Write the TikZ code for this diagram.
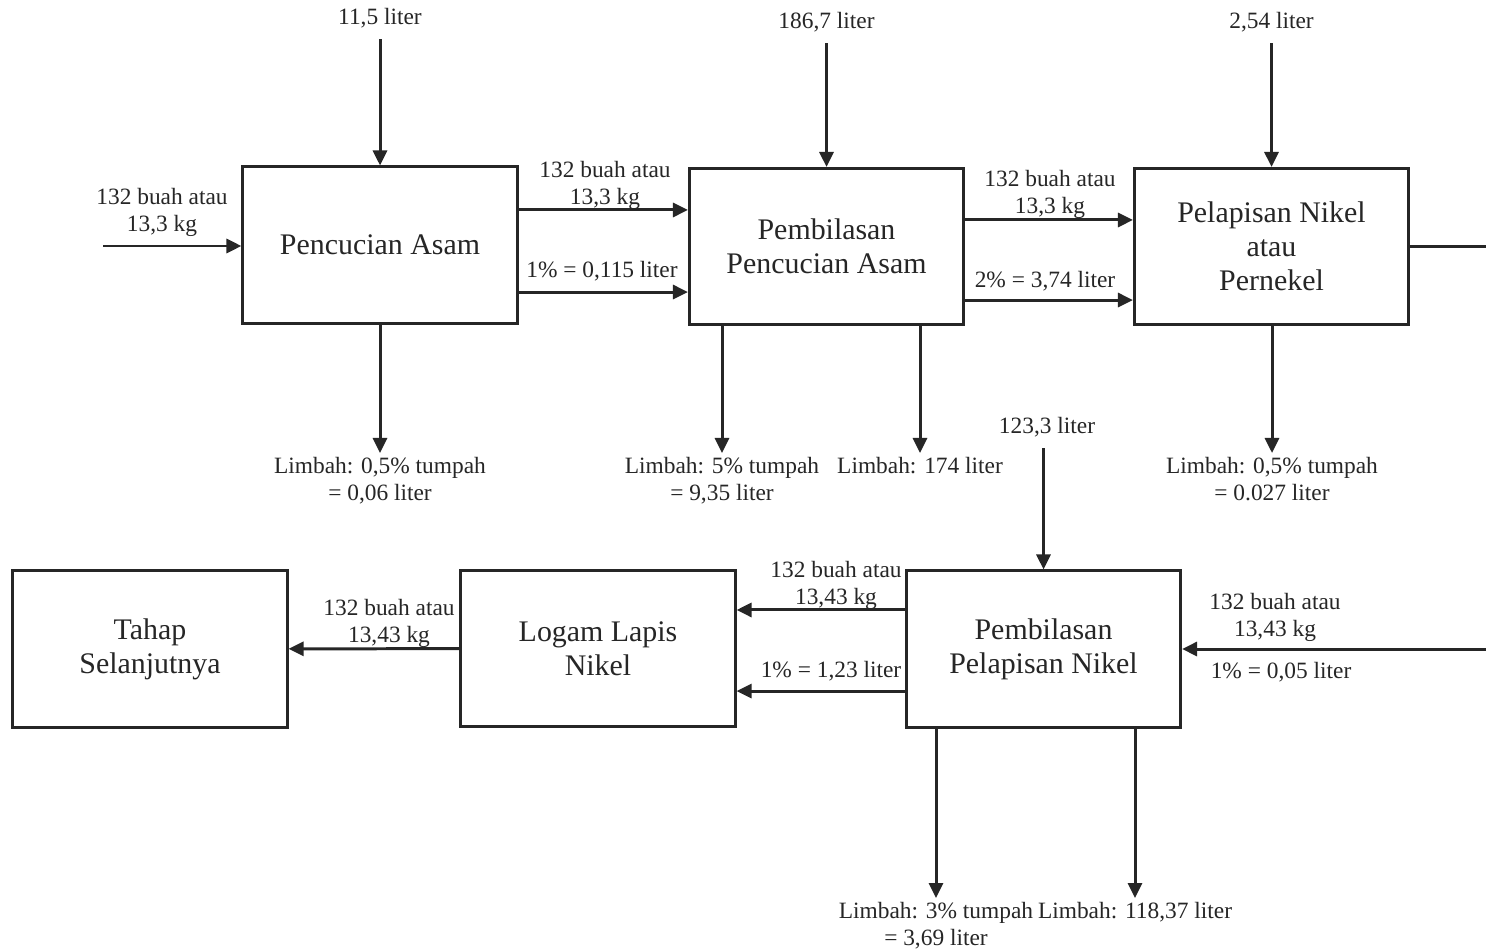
\documentclass[tikz,border=0pt]{standalone}
\usepackage{fontspec}
\setmainfont{Liberation Serif}
\usetikzlibrary{arrows.meta}
\tikzstyle{proses}=[rectangle,draw=black!85,line width=0.85pt,minimum width=2.74cm,minimum height=1.56cm,align=center,font=\fontsize{8.5}{9.6}\selectfont,text=black!85,inner sep=2pt]
\tikzstyle{ket}=[align=center,font=\fontsize{6.65}{7.7}\selectfont,text=black!85,inner sep=1pt]
\tikzstyle{aliran}=[->,line width=0.85pt,draw=black!85]
\tikzstyle{garis}=[line width=0.85pt,draw=black!85]

\begin{document}
\begin{tikzpicture}[x=0.01cm,y=-0.01cm,>={Triangle[length=1.5mm,width=1.4mm]}]

   \useasboundingbox[fill=white] (0,0) rectangle (1486,949);

    % kotak proses
    \foreach \pos/\name/\txt in {{(380,245)/A/{Pencucian Asam}}, {(826.5,246.5)/B/{Pembilasan\\Pencucian Asam}}, {(1271.5,246.5)/C/{Pelapisan Nikel\\atau\\Pernekel}}, {(1043.5,649)/D/{Pembilasan\\Pelapisan Nikel}}, {(598,648.5)/E/{Logam Lapis\\Nikel}}, {(150,649)/F/{Tahap\\Selanjutnya}}}
        \node[proses] (\name) at \pos {\txt};

    % masukan dari atas
    \foreach \x/\y/\name/\txt in {380/18/tA/{11,5 liter}, 826.5/22/tB/{186,7 liter}, 1271.5/22/tC/{2,54 liter}, 1047/427/tD/{123,3 liter}}
        \node[ket, inner sep=3pt] (\name) at (\x,\y) {\txt};

    % limbah
    \foreach \x/\y/\name/\txt in {380/453/wA/{Limbah: 0,5\% tumpah\\= 0,06 liter}, 722/453/wB1/{Limbah: 5\% tumpah\\= 9,35 liter}, 920/453/wB2/{Limbah: 174 liter}, 1272/453/wC/{Limbah: 0,5\% tumpah\\= 0.027 liter}, 936/898/wD1/{Limbah: 3\% tumpah\\= 3,69 liter}, 1135/898/wD2/{Limbah: 118,37 liter}}
        \node[ket, anchor=north] (\name) at (\x,\y) {\txt};

    % keterangan aliran
    \foreach \x/\y/\name/\txt in {162/212/lIn/{132 buah atau\\13,3 kg}, 605/185/lAB1/{132 buah atau\\13,3 kg}, 602/271/lAB2/{1\% = 0,115 liter}, 1050/194/lBC1/{132 buah atau\\13,3 kg}, 1045/281/lBC2/{2\% = 3,74 liter}, 836/585/lDE1/{132 buah atau\\13,43 kg}, 831/671/lDE2/{1\% = 1,23 liter}, 389/623/lEF/{132 buah atau\\13,43 kg}, 1275/617/lRD1/{132 buah atau\\13,43 kg}, 1281/672/lRD2/{1\% = 0,05 liter}}
        \node[ket] (\name) at (\x,\y) {\txt};

    \coordinate (inA) at (103,246);
    \coordinate (outC) at (1486,246.5);
    \coordinate (inD) at (1486,649);

    \draw[aliran] (tA) -- (A);
    \draw[aliran] (tB) -- (B);
    \draw[aliran] (tC) -- (C);
    \draw[aliran] (tD.south -| D.north) -- (D.north);

    \draw[aliran] (inA) -- (inA -| A.west);
    \draw[aliran] ([yshift=3.5mm]A.east) -- ([yshift=3.5mm]A.east -| B.west);
    \draw[aliran] ([yshift=-4.7mm]A.east) -- ([yshift=-4.7mm]A.east -| B.west);
    \draw[aliran] ([yshift=2.65mm]B.east) -- ([yshift=2.65mm]B.east -| C.west);
    \draw[aliran] ([yshift=-5.35mm]B.east) -- ([yshift=-5.35mm]B.east -| C.west);
    \draw[garis] (C) -- (outC);
    \draw[aliran] (inD) -- (D);
    \draw[aliran] ([yshift=3.9mm]D.west) -- ([yshift=3.9mm]D.west -| E.east);
    \draw[aliran] ([yshift=-4.2mm]D.west) -- ([yshift=-4.2mm]D.west -| E.east);
    \draw[aliran] (E) -- (F);

    \draw[aliran] (A) -- (wA.north);
    \draw[aliran] (B.south -| wB1.north) -- (wB1.north);
    \draw[aliran] (B.south -| wB2.north) -- (wB2.north);
    \draw[aliran] (C.south -| wC.north) -- (wC.north);
    \draw[aliran] (D.south -| wD1.north) -- (wD1.north);
    \draw[aliran] (D.south -| wD2.north) -- (wD2.north);

\end{tikzpicture}
\end{document}
